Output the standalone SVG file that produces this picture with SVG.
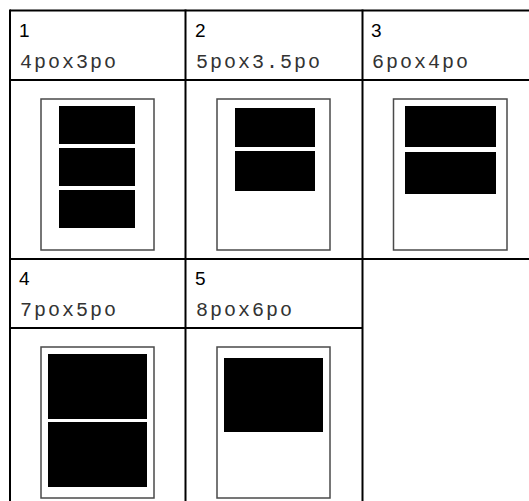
<svg xmlns="http://www.w3.org/2000/svg" width="529" height="501" viewBox="0 0 529 501">
<style>
.grid{stroke:#000;stroke-width:2;fill:none}
.page{fill:#fff;stroke:#4a4a4a;stroke-width:1.5}
.blk{fill:#000}
.num{font-family:"Liberation Sans",Arial,sans-serif;font-size:19px;fill:#000}
.size{font-family:"Liberation Mono","Courier New",monospace;font-size:20px;fill:#333;letter-spacing:2px}
</style>
<rect width="529" height="501" fill="#fff"/>
<g id="connectors">
<line class="grid" x1="10" y1="10.5" x2="529" y2="10.5"/>
<line class="grid" x1="10" y1="80" x2="529" y2="80"/>
<line class="grid" x1="10" y1="259" x2="529" y2="259"/>
<line class="grid" x1="10" y1="328" x2="362.5" y2="328"/>
<line class="grid" x1="10" y1="9.5" x2="10" y2="501"/>
<line class="grid" x1="185.5" y1="9.5" x2="185.5" y2="501"/>
<line class="grid" x1="362.5" y1="9.5" x2="362.5" y2="501"/>
</g>
<g id="cell1">
<text class="num" x="19" y="37">1</text>
<text class="size" x="20" y="68">4pox3po</text>
<rect class="page" x="41" y="99" width="113" height="151"/>
<rect class="blk" x="59" y="106" width="76" height="38"/>
<rect class="blk" x="59" y="148" width="76" height="38"/>
<rect class="blk" x="59" y="190" width="76" height="38"/>
</g>
<g id="cell2">
<text class="num" x="195" y="37">2</text>
<text class="size" x="196" y="68">5pox3.5po</text>
<rect class="page" x="217" y="99" width="113" height="151"/>
<rect class="blk" x="235" y="108" width="80" height="39"/>
<rect class="blk" x="235" y="151" width="80" height="40"/>
</g>
<g id="cell3">
<text class="num" x="371" y="37">3</text>
<text class="size" x="372" y="68">6pox4po</text>
<rect class="page" x="393.5" y="99" width="113.5" height="151"/>
<rect class="blk" x="405" y="106" width="91" height="41"/>
<rect class="blk" x="405" y="152" width="91" height="42"/>
</g>
<g id="cell4">
<text class="num" x="19" y="285">4</text>
<text class="size" x="20" y="316">7pox5po</text>
<rect class="page" x="41" y="347" width="113" height="151"/>
<rect class="blk" x="48" y="354" width="99" height="65"/>
<rect class="blk" x="48" y="422" width="99" height="65"/>
</g>
<g id="cell5">
<text class="num" x="195" y="285">5</text>
<text class="size" x="196" y="316">8pox6po</text>
<rect class="page" x="217" y="347" width="113" height="151"/>
<rect class="blk" x="224" y="358" width="99" height="74"/>
</g>
</svg>
